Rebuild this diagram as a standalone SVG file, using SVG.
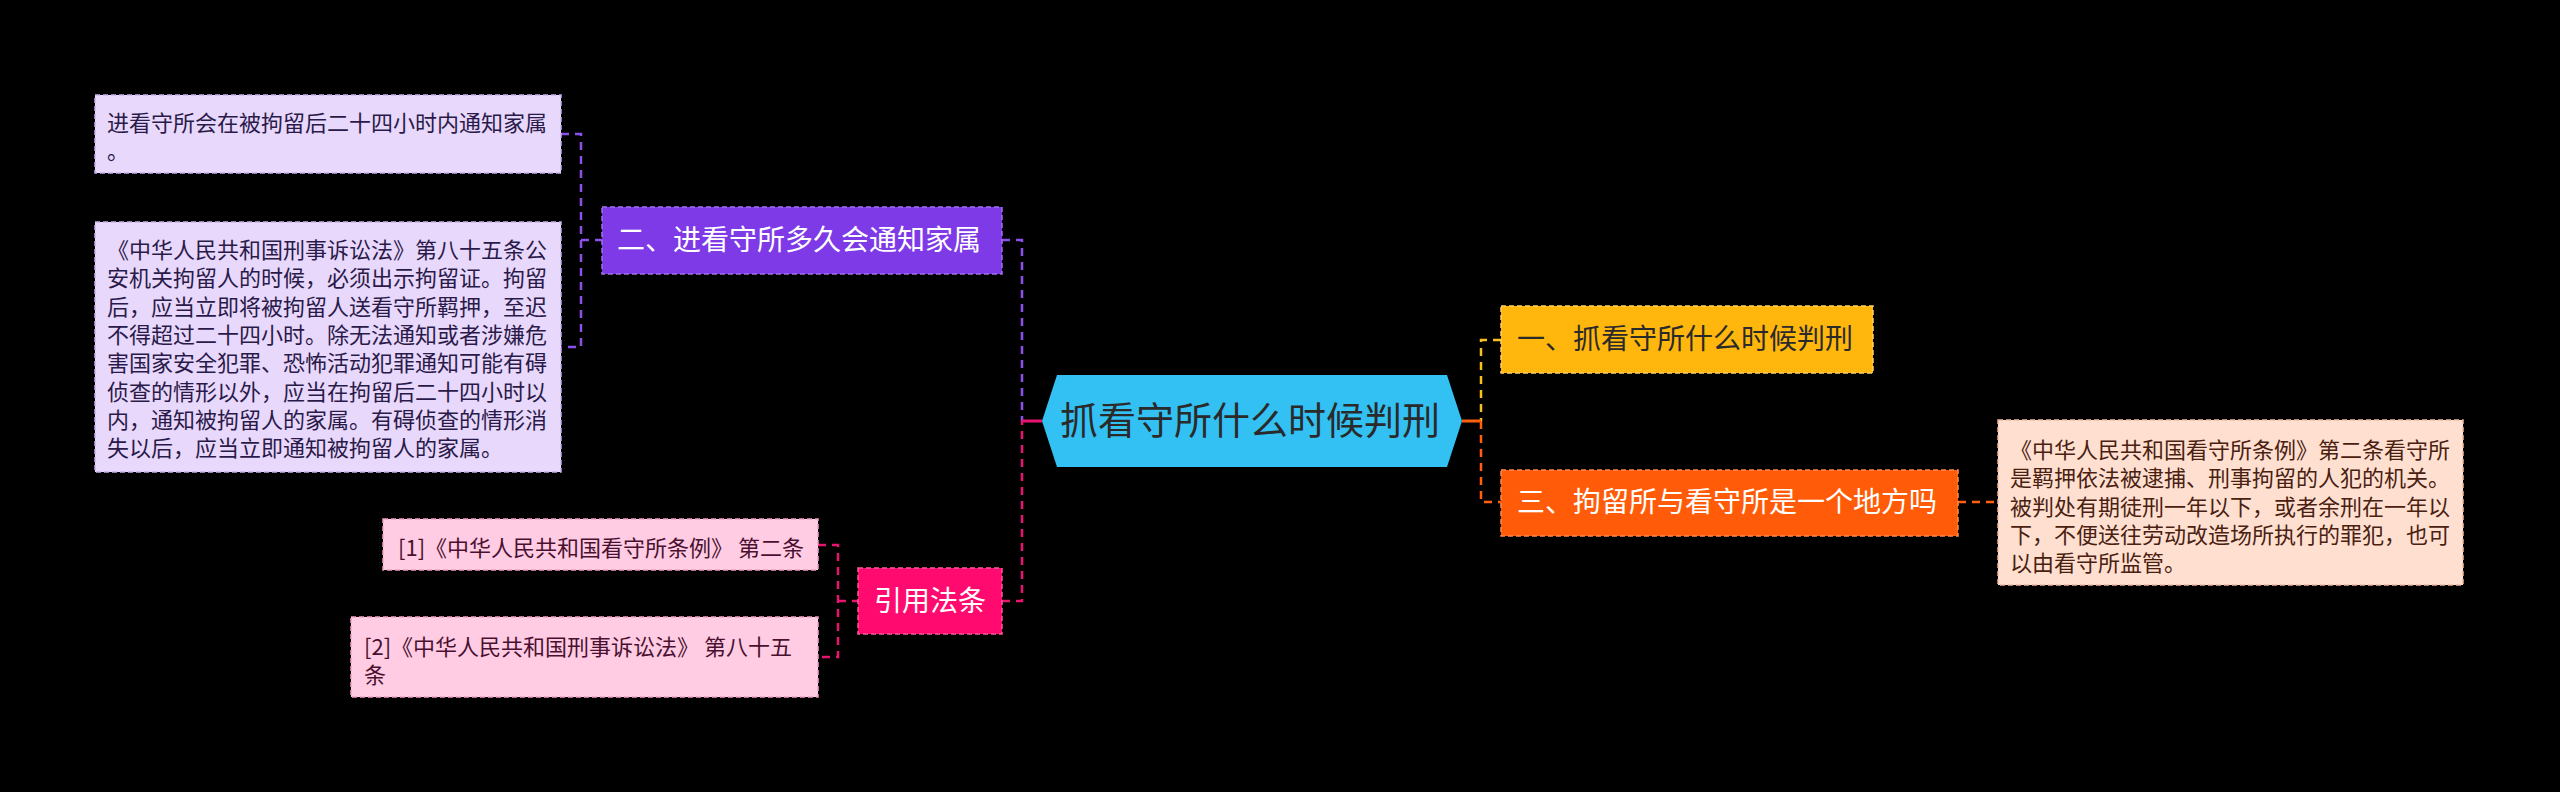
<svg xmlns="http://www.w3.org/2000/svg" width="2560" height="792" viewBox="0 0 2560 792">
<style>
text{font-family:"Noto Sans CJK SC","Liberation Sans",sans-serif;}
.leaf{font-size:22px;}
.main{font-size:28px;}
.conn{fill:none;stroke-width:2.5;stroke-dasharray:8 6;}
.solid{fill:none;stroke-width:3;}
.bd{stroke-width:1.5;stroke-dasharray:5 3;}
</style>
<rect width="2560" height="792" fill="#000"/>
<g id="connectors">
  <path class="conn" stroke="#8B4FEA" d="M561,134 H581 V347 H561 M581,240 H602"/>
  <path class="conn" stroke="#8B4FEA" d="M1002,240 H1022 V421"/>
  <path class="conn" stroke="#E8156E" d="M818,545 H838 V657 H818 M838,601 H858"/>
  <path class="conn" stroke="#E8156E" d="M1002,601 H1022 V421"/>
  <path class="solid" stroke="#E8156E" d="M1022,421 H1042"/>
  <path class="conn" stroke="#F7C21E" d="M1501,340 H1481 V421"/>
  <path class="conn" stroke="#FF6010" d="M1481,421 V502 H1501"/>
  <path class="solid" stroke="#FF6010" d="M1462,421 H1481"/>
  <path class="conn" stroke="#FF6010" stroke-width="1.5" d="M1958,502 H1998"/>
</g>
<g id="root">
  <polygon points="1042,421 1057,375 1447,375 1462,421 1447,467 1057,467" fill="#33C1F3"/>
  <text x="1250" y="434" font-size="38" fill="#2a2a2a" text-anchor="middle">抓看守所什么时候判刑</text>
</g>
<g id="n2">
  <rect x="602" y="207" width="400" height="67" fill="#7E3AE6" stroke="#A070F0" class="bd"/>
  <text x="617" y="250" class="main" fill="#fff">二、进看守所多久会通知家属</text>
</g>
<g id="leaf2a">
  <rect x="95" y="95" width="466" height="78" fill="#E8D8FB" stroke="#C8B0F0" class="bd"/>
  <text class="leaf" fill="#2A1A4A"><tspan x="107" y="131">进看守所会在被拘留后二十四小时内通知家属</tspan><tspan x="107" y="159">。</tspan></text>
</g>
<g id="leaf2b">
  <rect x="95" y="222" width="466" height="250" fill="#E8D8FB" stroke="#C8B0F0" class="bd"/>
  <text class="leaf" fill="#2A1A4A">
    <tspan x="107" y="258">《中华人民共和国刑事诉讼法》第八十五条公</tspan>
    <tspan x="107" y="286.3">安机关拘留人的时候，必须出示拘留证。拘留</tspan>
    <tspan x="107" y="314.6">后，应当立即将被拘留人送看守所羁押，至迟</tspan>
    <tspan x="107" y="342.9">不得超过二十四小时。除无法通知或者涉嫌危</tspan>
    <tspan x="107" y="371.2">害国家安全犯罪、恐怖活动犯罪通知可能有碍</tspan>
    <tspan x="107" y="399.5">侦查的情形以外，应当在拘留后二十四小时以</tspan>
    <tspan x="107" y="427.8">内，通知被拘留人的家属。有碍侦查的情形消</tspan>
    <tspan x="107" y="456.1">失以后，应当立即通知被拘留人的家属。</tspan>
  </text>
</g>
<g id="n4">
  <rect x="858" y="568" width="144" height="66" fill="#FF0A6E" stroke="#FF5A9A" class="bd"/>
  <text x="930" y="611" class="main" fill="#fff" text-anchor="middle">引用法条</text>
</g>
<g id="leaf4a">
  <rect x="383" y="519" width="435" height="51" fill="#FFCCE3" stroke="#F0A0C8" class="bd"/>
  <text x="398" y="556" class="leaf" fill="#4A1030">[1]《中华人民共和国看守所条例》 第二条</text>
</g>
<g id="leaf4b">
  <rect x="351" y="617" width="467" height="80" fill="#FFCCE3" stroke="#F0A0C8" class="bd"/>
  <text class="leaf" fill="#4A1030"><tspan x="364" y="655">[2]《中华人民共和国刑事诉讼法》 第八十五</tspan><tspan x="364" y="683">条</tspan></text>
</g>
<g id="n1">
  <rect x="1501" y="306" width="372" height="67" fill="#FFB70D" stroke="#FFD060" class="bd"/>
  <text x="1517" y="349" class="main" fill="#2a2a2a">一、抓看守所什么时候判刑</text>
</g>
<g id="n3">
  <rect x="1501" y="470" width="457" height="66" fill="#FF5B08" stroke="#FF8A50" class="bd"/>
  <text x="1517" y="512" class="main" fill="#fff">三、拘留所与看守所是一个地方吗</text>
</g>
<g id="leaf3">
  <rect x="1998" y="420" width="465" height="165" fill="#FFE0D0" stroke="#F0B8A0" class="bd"/>
  <text class="leaf" fill="#4A2010">
    <tspan x="2010" y="458">《中华人民共和国看守所条例》第二条看守所</tspan>
    <tspan x="2010" y="486.3">是羁押依法被逮捕、刑事拘留的人犯的机关。</tspan>
    <tspan x="2010" y="514.6">被判处有期徒刑一年以下，或者余刑在一年以</tspan>
    <tspan x="2010" y="542.9">下，不便送往劳动改造场所执行的罪犯，也可</tspan>
    <tspan x="2010" y="571.2">以由看守所监管。</tspan>
  </text>
</g>
</svg>
